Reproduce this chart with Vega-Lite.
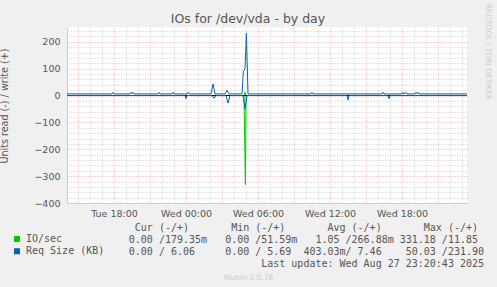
{
  "$schema": "https://vega.github.io/schema/vega-lite/v6.json",
  "width": 400,
  "height": 176,
  "autosize": {"type": "none"},
  "padding": {"left": 67, "top": 27, "right": 30, "bottom": 84},
  "background": "#f0f0f0",
  "title": {"text": "IOs for /dev/vda - by day", "anchor": "middle", "frame": "group", "dx": -19, "offset": -22, "fontSize": 12.5, "font": "DejaVu Sans", "fontWeight": "normal", "color": "#555555"},
  "config": {
    "view": {"fill": "white", "stroke": null},
    "font": "DejaVu Sans",
    "axis": {"labelFont": "DejaVu Sans", "titleFont": "DejaVu Sans", "titleFontWeight": "normal", "labelOverlap": false}
  },
  "data": {"values": [
      {"t": "2025-08-26T14:05:00Z", "v": 6, "s": "req_w", "name": "Req Size (KB)"},
      {"t": "2025-08-26T17:50:00Z", "v": 6, "s": "req_w", "name": "Req Size (KB)"},
      {"t": "2025-08-26T17:55:00Z", "v": 12, "s": "req_w", "name": "Req Size (KB)"},
      {"t": "2025-08-26T18:00:00Z", "v": 6, "s": "req_w", "name": "Req Size (KB)"},
      {"t": "2025-08-26T19:20:00Z", "v": 6, "s": "req_w", "name": "Req Size (KB)"},
      {"t": "2025-08-26T19:25:00Z", "v": 12, "s": "req_w", "name": "Req Size (KB)"},
      {"t": "2025-08-26T19:30:00Z", "v": 7, "s": "req_w", "name": "Req Size (KB)"},
      {"t": "2025-08-26T19:35:00Z", "v": 12, "s": "req_w", "name": "Req Size (KB)"},
      {"t": "2025-08-26T19:40:00Z", "v": 6, "s": "req_w", "name": "Req Size (KB)"},
      {"t": "2025-08-26T21:40:00Z", "v": 6, "s": "req_w", "name": "Req Size (KB)"},
      {"t": "2025-08-26T21:45:00Z", "v": 12, "s": "req_w", "name": "Req Size (KB)"},
      {"t": "2025-08-26T21:50:00Z", "v": 6, "s": "req_w", "name": "Req Size (KB)"},
      {"t": "2025-08-26T22:50:00Z", "v": 6, "s": "req_w", "name": "Req Size (KB)"},
      {"t": "2025-08-26T22:55:00Z", "v": 12, "s": "req_w", "name": "Req Size (KB)"},
      {"t": "2025-08-26T23:00:00Z", "v": 6, "s": "req_w", "name": "Req Size (KB)"},
      {"t": "2025-08-27T00:05:00Z", "v": 6, "s": "req_w", "name": "Req Size (KB)"},
      {"t": "2025-08-27T00:10:00Z", "v": 12, "s": "req_w", "name": "Req Size (KB)"},
      {"t": "2025-08-27T00:15:00Z", "v": 6, "s": "req_w", "name": "Req Size (KB)"},
      {"t": "2025-08-27T02:05:00Z", "v": 6, "s": "req_w", "name": "Req Size (KB)"},
      {"t": "2025-08-27T02:15:00Z", "v": 43, "s": "req_w", "name": "Req Size (KB)"},
      {"t": "2025-08-27T02:25:00Z", "v": 6, "s": "req_w", "name": "Req Size (KB)"},
      {"t": "2025-08-27T03:15:00Z", "v": 6, "s": "req_w", "name": "Req Size (KB)"},
      {"t": "2025-08-27T03:25:00Z", "v": 20, "s": "req_w", "name": "Req Size (KB)"},
      {"t": "2025-08-27T03:35:00Z", "v": 6, "s": "req_w", "name": "Req Size (KB)"},
      {"t": "2025-08-27T04:40:00Z", "v": 6, "s": "req_w", "name": "Req Size (KB)"},
      {"t": "2025-08-27T04:47:00Z", "v": 90, "s": "req_w", "name": "Req Size (KB)"},
      {"t": "2025-08-27T04:55:00Z", "v": 100, "s": "req_w", "name": "Req Size (KB)"},
      {"t": "2025-08-27T05:02:00Z", "v": 232, "s": "req_w", "name": "Req Size (KB)"},
      {"t": "2025-08-27T05:10:00Z", "v": 6, "s": "req_w", "name": "Req Size (KB)"},
      {"t": "2025-08-27T10:25:00Z", "v": 6, "s": "req_w", "name": "Req Size (KB)"},
      {"t": "2025-08-27T10:30:00Z", "v": 12, "s": "req_w", "name": "Req Size (KB)"},
      {"t": "2025-08-27T10:35:00Z", "v": 6, "s": "req_w", "name": "Req Size (KB)"},
      {"t": "2025-08-27T16:20:00Z", "v": 6, "s": "req_w", "name": "Req Size (KB)"},
      {"t": "2025-08-27T16:25:00Z", "v": 12, "s": "req_w", "name": "Req Size (KB)"},
      {"t": "2025-08-27T16:30:00Z", "v": 6, "s": "req_w", "name": "Req Size (KB)"},
      {"t": "2025-08-27T18:00:00Z", "v": 6, "s": "req_w", "name": "Req Size (KB)"},
      {"t": "2025-08-27T18:05:00Z", "v": 12, "s": "req_w", "name": "Req Size (KB)"},
      {"t": "2025-08-27T18:10:00Z", "v": 6, "s": "req_w", "name": "Req Size (KB)"},
      {"t": "2025-08-27T18:20:00Z", "v": 12, "s": "req_w", "name": "Req Size (KB)"},
      {"t": "2025-08-27T18:25:00Z", "v": 6, "s": "req_w", "name": "Req Size (KB)"},
      {"t": "2025-08-27T19:05:00Z", "v": 6, "s": "req_w", "name": "Req Size (KB)"},
      {"t": "2025-08-27T19:10:00Z", "v": 12, "s": "req_w", "name": "Req Size (KB)"},
      {"t": "2025-08-27T19:15:00Z", "v": 7, "s": "req_w", "name": "Req Size (KB)"},
      {"t": "2025-08-27T19:20:00Z", "v": 12, "s": "req_w", "name": "Req Size (KB)"},
      {"t": "2025-08-27T19:25:00Z", "v": 6, "s": "req_w", "name": "Req Size (KB)"},
      {"t": "2025-08-27T23:25:00Z", "v": 6, "s": "req_w", "name": "Req Size (KB)"},
      {"t": "2025-08-26T14:05:00Z", "v": 0, "s": "req_r", "name": "Req Size (KB)"},
      {"t": "2025-08-26T23:55:00Z", "v": 0, "s": "req_r", "name": "Req Size (KB)"},
      {"t": "2025-08-27T00:00:00Z", "v": -12, "s": "req_r", "name": "Req Size (KB)"},
      {"t": "2025-08-27T00:05:00Z", "v": 0, "s": "req_r", "name": "Req Size (KB)"},
      {"t": "2025-08-27T02:10:00Z", "v": 0, "s": "req_r", "name": "Req Size (KB)"},
      {"t": "2025-08-27T02:20:00Z", "v": -10, "s": "req_r", "name": "Req Size (KB)"},
      {"t": "2025-08-27T02:30:00Z", "v": 0, "s": "req_r", "name": "Req Size (KB)"},
      {"t": "2025-08-27T03:20:00Z", "v": 0, "s": "req_r", "name": "Req Size (KB)"},
      {"t": "2025-08-27T03:30:00Z", "v": -28, "s": "req_r", "name": "Req Size (KB)"},
      {"t": "2025-08-27T03:40:00Z", "v": 0, "s": "req_r", "name": "Req Size (KB)"},
      {"t": "2025-08-27T04:45:00Z", "v": 0, "s": "req_r", "name": "Req Size (KB)"},
      {"t": "2025-08-27T04:55:00Z", "v": -50, "s": "req_r", "name": "Req Size (KB)"},
      {"t": "2025-08-27T05:05:00Z", "v": 0, "s": "req_r", "name": "Req Size (KB)"},
      {"t": "2025-08-27T13:25:00Z", "v": 0, "s": "req_r", "name": "Req Size (KB)"},
      {"t": "2025-08-27T13:30:00Z", "v": -17, "s": "req_r", "name": "Req Size (KB)"},
      {"t": "2025-08-27T13:35:00Z", "v": 0, "s": "req_r", "name": "Req Size (KB)"},
      {"t": "2025-08-27T16:50:00Z", "v": 0, "s": "req_r", "name": "Req Size (KB)"},
      {"t": "2025-08-27T16:55:00Z", "v": -12, "s": "req_r", "name": "Req Size (KB)"},
      {"t": "2025-08-27T17:00:00Z", "v": 0, "s": "req_r", "name": "Req Size (KB)"},
      {"t": "2025-08-27T23:25:00Z", "v": 0, "s": "req_r", "name": "Req Size (KB)"},
      {"t": "2025-08-26T14:05:00Z", "v": 0.3, "s": "io_w", "name": "IO/sec"},
      {"t": "2025-08-27T04:50:00Z", "v": 0.3, "s": "io_w", "name": "IO/sec"},
      {"t": "2025-08-27T04:55:00Z", "v": 12, "s": "io_w", "name": "IO/sec"},
      {"t": "2025-08-27T05:00:00Z", "v": 0.3, "s": "io_w", "name": "IO/sec"},
      {"t": "2025-08-27T23:25:00Z", "v": 0.3, "s": "io_w", "name": "IO/sec"},
      {"t": "2025-08-26T14:05:00Z", "v": 0, "s": "io_r", "name": "IO/sec"},
      {"t": "2025-08-27T04:50:00Z", "v": 0, "s": "io_r", "name": "IO/sec"},
      {"t": "2025-08-27T04:57:00Z", "v": -331, "s": "io_r", "name": "IO/sec"},
      {"t": "2025-08-27T05:00:00Z", "v": 0, "s": "io_r", "name": "IO/sec"},
      {"t": "2025-08-27T23:25:00Z", "v": 0, "s": "io_r", "name": "IO/sec"}
  ]},
  "resolve": {"axis": {"x": "independent", "y": "independent"}},
  "layer": [
    {
      "transform": [{"filter": "datum.name === 'IO/sec'"}],
      "mark": {"type": "line", "strokeWidth": 1},
      "encoding": {
        "x": {"field": "t", "type": "temporal",
          "scale": {"type": "utc", "nice": false, "domain": [{"year": 2025, "month": 8, "date": 26, "hours": 14, "minutes": 5, "utc": true}, {"year": 2025, "month": 8, "date": 27, "hours": 23, "minutes": 25, "utc": true}]},
          "axis": {
            "orient": "bottom",
            "values": [
              {"year": 2025, "month": 8, "date": 26, "hours": 15, "utc": true},
              {"year": 2025, "month": 8, "date": 26, "hours": 16, "utc": true},
              {"year": 2025, "month": 8, "date": 26, "hours": 17, "utc": true},
              {"year": 2025, "month": 8, "date": 26, "hours": 18, "utc": true},
              {"year": 2025, "month": 8, "date": 26, "hours": 19, "utc": true},
              {"year": 2025, "month": 8, "date": 26, "hours": 20, "utc": true},
              {"year": 2025, "month": 8, "date": 26, "hours": 21, "utc": true},
              {"year": 2025, "month": 8, "date": 26, "hours": 22, "utc": true},
              {"year": 2025, "month": 8, "date": 26, "hours": 23, "utc": true},
              {"year": 2025, "month": 8, "date": 27, "hours": 0, "utc": true},
              {"year": 2025, "month": 8, "date": 27, "hours": 1, "utc": true},
              {"year": 2025, "month": 8, "date": 27, "hours": 2, "utc": true},
              {"year": 2025, "month": 8, "date": 27, "hours": 3, "utc": true},
              {"year": 2025, "month": 8, "date": 27, "hours": 4, "utc": true},
              {"year": 2025, "month": 8, "date": 27, "hours": 5, "utc": true},
              {"year": 2025, "month": 8, "date": 27, "hours": 6, "utc": true},
              {"year": 2025, "month": 8, "date": 27, "hours": 7, "utc": true},
              {"year": 2025, "month": 8, "date": 27, "hours": 8, "utc": true},
              {"year": 2025, "month": 8, "date": 27, "hours": 9, "utc": true},
              {"year": 2025, "month": 8, "date": 27, "hours": 10, "utc": true},
              {"year": 2025, "month": 8, "date": 27, "hours": 11, "utc": true},
              {"year": 2025, "month": 8, "date": 27, "hours": 12, "utc": true},
              {"year": 2025, "month": 8, "date": 27, "hours": 13, "utc": true},
              {"year": 2025, "month": 8, "date": 27, "hours": 14, "utc": true},
              {"year": 2025, "month": 8, "date": 27, "hours": 15, "utc": true},
              {"year": 2025, "month": 8, "date": 27, "hours": 16, "utc": true},
              {"year": 2025, "month": 8, "date": 27, "hours": 17, "utc": true},
              {"year": 2025, "month": 8, "date": 27, "hours": 18, "utc": true},
              {"year": 2025, "month": 8, "date": 27, "hours": 19, "utc": true},
              {"year": 2025, "month": 8, "date": 27, "hours": 20, "utc": true},
              {"year": 2025, "month": 8, "date": 27, "hours": 21, "utc": true},
              {"year": 2025, "month": 8, "date": 27, "hours": 22, "utc": true},
              {"year": 2025, "month": 8, "date": 27, "hours": 23, "utc": true}
            ],
            "labelExpr": "utchours(datum.value) % 6 === 0 ? utcFormat(datum.value, '%a %H:%M') : ''",
            "labelOverlap": false, "labelFlush": false,
            "grid": true,
            "gridColor": {"condition": {"test": "utchours(datum.value) % 3 === 0", "value": "#eeaaaa"}, "value": "#cccccc"},
            "gridDash": [1, 2],
            "ticks": false, "domain": true, "domainColor": "#c8c8f0",
            "labelFontSize": 9.5, "labelColor": "#555555", "labelPadding": 5,
            "title": [
              "\u200b\u00a0Cur\u00a0(-/+)\u00a0\u00a0\u00a0\u00a0\u00a0\u00a0\u00a0Min\u00a0(-/+)\u00a0\u00a0\u00a0\u00a0\u00a0\u00a0\u00a0Avg\u00a0(-/+)\u00a0\u00a0\u00a0\u00a0\u00a0\u00a0\u00a0Max\u00a0(-/+)",
              "0.00\u00a0/179.35m\u00a0\u00a0\u00a00.00\u00a0/51.59m\u00a0\u00a0\u00a01.05\u00a0/266.88m\u00a0331.18\u00a0/11.85",
              "0.00\u00a0/\u00a06.06\u00a0\u00a0\u00a0\u00a0\u00a00.00\u00a0/\u00a05.69\u00a0\u00a0403.03m/\u00a07.46\u00a0\u00a0\u00a0\u00a050.03\u00a0/231.90",
              "\u200b\u00a0\u00a0\u00a0\u00a0\u00a0\u00a0\u00a0\u00a0\u00a0\u00a0\u00a0\u00a0\u00a0\u00a0\u00a0\u00a0\u00a0\u00a0\u00a0\u00a0\u00a0\u00a0Last\u00a0update:\u00a0Wed\u00a0Aug\u00a027\u00a023:20:43\u00a02025"
            ],
            "titleFont": "DejaVu Sans Mono", "titleFontSize": 10, "titleColor": "#555555", "titleFontWeight": "normal",
            "titleAlign": "left", "titleAnchor": "start", "titleX": 61.3, "titleY": 19, "titleBaseline": "top", "titleLineHeight": 12.33
          }},
        "y": {"field": "v", "type": "quantitative",
          "scale": {"domain": [-400, 255], "nice": false, "zero": false},
          "axis": {
            "orient": "left",
            "values": [-400, -380, -360, -340, -320, -300, -280, -260, -240, -220, -200, -180, -160, -140, -120, -100, -80, -60, -40, -20, 0, 20, 40, 60, 80, 100, 120, 140, 160, 180, 200, 220, 240],
            "labelExpr": "datum.value % 100 === 0 ? datum.label : ''",
            "labelOverlap": false,
            "grid": true,
            "gridColor": {"condition": {"test": "datum.value % 100 === 0", "value": "#eeaaaa"}, "value": "#cccccc"},
            "gridDash": [1, 2],
            "ticks": false, "domain": true, "domainColor": "#c8c8f0",
            "labelFontSize": 9.5, "labelColor": "#555555", "labelPadding": 7,
            "title": "Units read (-) / write (+)", "titleFontSize": 9.6, "titleColor": "#555555", "titlePadding": 24, "titleY": 78.5
          }},
        "color": {"field": "name", "type": "nominal",
          "scale": {"domain": ["IO/sec", "Req Size (KB)"], "range": ["#00cc00", "#0066b3"]},
          "legend": {"title": null, "orient": "none", "legendX": -55, "legendY": 207, "direction": "vertical", "symbolType": "square", "symbolSize": 1, "symbolStrokeWidth": 5, "labelFont": "DejaVu Sans Mono", "labelFontSize": 10, "labelColor": "#555555", "labelOffset": 4, "clipHeight": 10, "rowPadding": 2.33, "padding": 0}},
        "detail": {"field": "s"}
      }
    },
    {
      "mark": {"type": "rule", "color": "#000000", "strokeWidth": 1.2},
      "encoding": {"y": {"datum": 0, "axis": null}}
    },
    {
      "transform": [{"filter": "datum.name === 'Req Size (KB)'"}],
      "mark": {"type": "line", "strokeWidth": 1},
      "encoding": {
        "x": {"field": "t", "type": "temporal", "axis": null},
        "y": {"field": "v", "type": "quantitative", "axis": null},
        "color": {"field": "name", "type": "nominal"},
        "detail": {"field": "s"}
      }
    },
    {
      "transform": [{"filter": "datum.name === 'IO/sec'"}],
      "mark": {"type": "line", "opacity": 0},
      "encoding": {
        "x": {"field": "t", "type": "temporal",
          "axis": {"orient": "bottom", "labels": false, "ticks": false, "domain": false, "grid": false, "title": "Munin 2.0.76", "titleFont": "DejaVu Sans", "titleFontSize": 7.6, "titleColor": "#cccccc", "titleX": 181, "titleY": 74, "titleAlign": "center", "titleBaseline": "middle"}},
        "y": {"field": "v", "type": "quantitative",
          "axis": {"orient": "right", "labels": false, "ticks": false, "domain": false, "grid": false, "title": "RRDTOOL / TOBI OETIKER", "titleFont": "DejaVu Sans", "titleAngle": 90, "titleFontSize": 7.5, "titleColor": "#cccccc", "titleX": 20.5, "titleY": 24.5, "titleAlign": "center", "titleBaseline": "middle"}},
        "detail": {"field": "s"}
      }
    }
  ]
}
